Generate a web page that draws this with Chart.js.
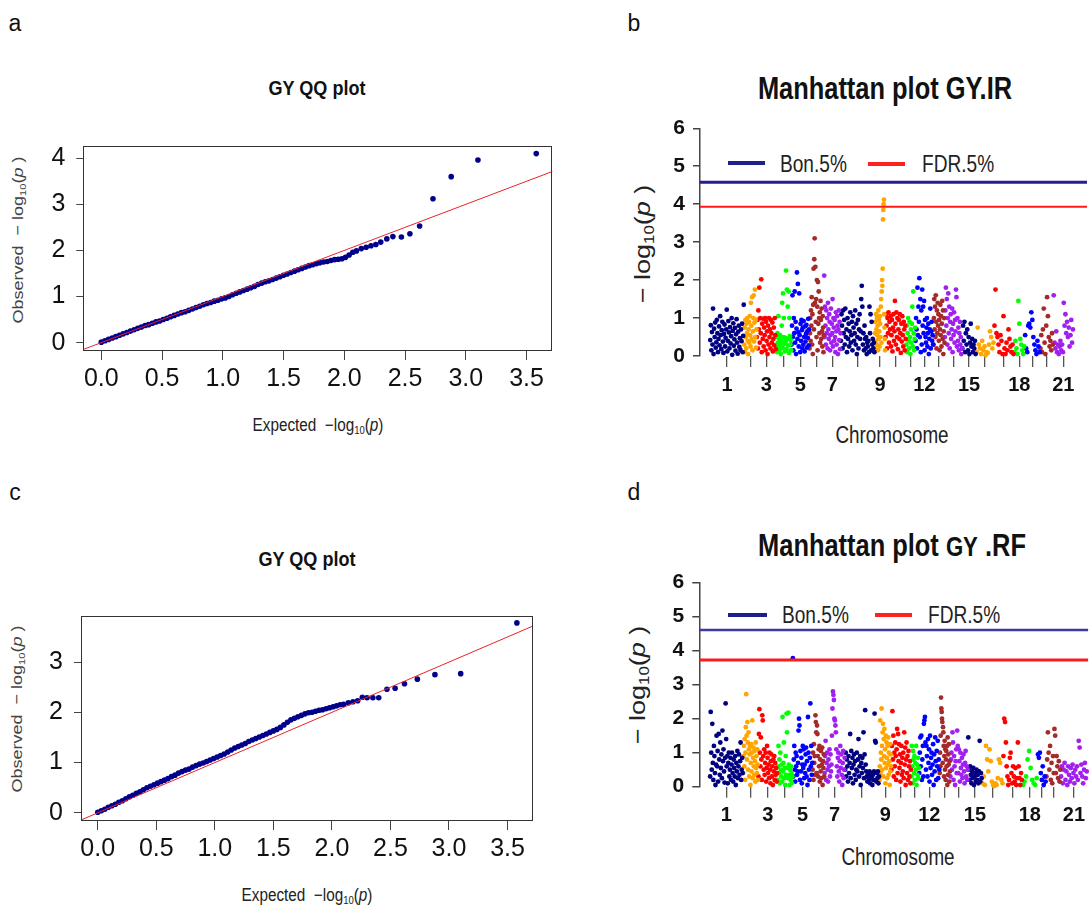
<!DOCTYPE html>
<html><head><meta charset="utf-8">
<script src="https://cdn.jsdelivr.net/npm/chart.js@4.4.1/dist/chart.umd.min.js"></script>
<style>
html,body{margin:0;padding:0;background:#fff;}
#page{position:relative;width:1091px;height:905px;overflow:hidden;background:#fff;font-family:'Liberation Sans',Arial,sans-serif;}
.t,.v,.l{position:absolute;white-space:nowrap;line-height:1;}
.seg{position:absolute;}
sub{font-size:0.62em;vertical-align:-0.28em;line-height:0;}
canvas{position:absolute;}
</style></head><body><div id="page">

<div class="t" style="left:15px;top:23px;font-size:23px;color:#111;transform:translate(-50%,-50%)">a</div>
<div class="t" style="left:634px;top:23px;font-size:23px;color:#111;transform:translate(-50%,-50%)">b</div>
<div class="t" style="left:15px;top:492px;font-size:23px;color:#111;transform:translate(-50%,-50%)">c</div>
<div class="t" style="left:634px;top:492px;font-size:23px;color:#111;transform:translate(-50%,-50%)">d</div>

<div class="t" style="left:317px;top:87px;font-size:21px;font-weight:bold;color:#111;transform:translate(-50%,-50%) scaleX(0.86)">GY QQ plot</div>
<div class="t" style="left:307px;top:558px;font-size:21px;font-weight:bold;color:#111;transform:translate(-50%,-50%) scaleX(0.86)">GY QQ plot</div>
<div class="t" style="left:885px;top:88px;font-size:31px;font-weight:bold;color:#111;transform:translate(-50%,-50%) scaleX(0.82)">Manhattan plot GY.IR</div>
<div class="t" style="left:892px;top:545px;font-size:31px;font-weight:bold;color:#111;transform:translate(-50%,-50%) scaleX(0.82)">Manhattan plot <span style="font-size:27px">GY</span> .RF</div>

<div class="v" style="left:18px;top:240px;font-size:18px;color:#444;transform:translate(-50%,-50%) rotate(-90deg) scaleY(0.85)">Observed&nbsp;&nbsp;&minus;&nbsp;log<sub>10</sub>(<i>p</i>&nbsp;)</div>
<div class="t" style="left:318px;top:425px;font-size:18px;color:#222;transform:translate(-50%,-50%) scaleX(0.85)">Expected&nbsp;&nbsp;&minus;log<sub>10</sub>(<i>p</i>)</div>
<div class="v" style="left:17px;top:709px;font-size:18px;color:#444;transform:translate(-50%,-50%) rotate(-90deg) scaleY(0.85)">Observed&nbsp;&nbsp;&minus;&nbsp;log<sub>10</sub>(<i>p</i>&nbsp;)</div>
<div class="t" style="left:307px;top:895px;font-size:18px;color:#222;transform:translate(-50%,-50%) scaleX(0.85)">Expected&nbsp;&nbsp;&minus;log<sub>10</sub>(<i>p</i>)</div>

<div class="v" style="left:643px;top:244px;font-size:27px;color:#222;transform:translate(-50%,-50%) rotate(-90deg) scaleY(0.82)">&minus;&nbsp;log<sub>10</sub>(<i>p</i>&nbsp;)</div>
<div class="v" style="left:638px;top:685px;font-size:27px;color:#222;transform:translate(-50%,-50%) rotate(-90deg) scaleY(0.82)">&minus;&nbsp;log<sub>10</sub>(<i>p</i>&nbsp;)</div>
<div class="t" style="left:892px;top:435px;font-size:23px;color:#222;transform:translate(-50%,-50%) scaleX(0.82)">Chromosome</div>
<div class="t" style="left:898px;top:857px;font-size:23px;color:#222;transform:translate(-50%,-50%) scaleX(0.82)">Chromosome</div>

<div class="seg" style="left:728px;top:161px;width:37px;height:4px;background:#1e1e8c"></div>
<div class="l" style="left:780px;top:164px;font-size:23px;color:#222;transform-origin:0 50%;transform:translateY(-50%) scaleX(0.83)">Bon.5%</div>
<div class="seg" style="left:868px;top:161.5px;width:37px;height:4px;background:#ff2020"></div>
<div class="l" style="left:922px;top:164px;font-size:23px;color:#222;transform-origin:0 50%;transform:translateY(-50%) scaleX(0.83)">FDR.5%</div>

<div class="seg" style="left:728px;top:612.5px;width:39px;height:4px;background:#1e1e8c"></div>
<div class="l" style="left:782px;top:615px;font-size:23px;color:#222;transform-origin:0 50%;transform:translateY(-50%) scaleX(0.83)">Bon.5%</div>
<div class="seg" style="left:875px;top:612.5px;width:37px;height:4px;background:#ff2020"></div>
<div class="l" style="left:928px;top:615px;font-size:23px;color:#222;transform-origin:0 50%;transform:translateY(-50%) scaleX(0.83)">FDR.5%</div>

<canvas id="qqA" width="560" height="280" style="left:0;top:120px"></canvas>
<canvas id="qqC" width="545" height="280" style="left:0;top:590px"></canvas>
<canvas id="manB" width="487" height="306" style="left:600px;top:100px"></canvas>
<canvas id="manD" width="491" height="277" style="left:600px;top:560px"></canvas>
</div>
<script>
// ---------------- DATA ----------------
// QQ plots: expected -log10(p) (shared) and observed -log10(p)
const qqExpected = [3.58,3.10,2.88,2.73,2.62,2.54,2.47,2.40,2.35,2.30,2.26,2.22,2.18,2.14,
 2.10,2.07,2.04,2.01,1.98,1.95,1.92,1.89,1.86,1.83,1.80,1.77,1.74,1.71,1.68,1.65,1.62,1.59,1.56,1.53,
 1.50,1.47,1.44,1.41,1.38,1.35,1.32,1.29,1.26,1.23,1.20,1.17,1.14,1.11,1.08,1.05,1.02,0.99,0.96,0.93,
 0.90,0.87,0.84,0.81,0.78,0.75,0.72,0.69,0.66,0.63,0.60,0.57,0.54,0.51,0.48,0.45,0.42,0.39,0.36,0.33,
 0.30,0.27,0.24,0.21,0.18,0.15,0.12,0.09,0.06,0.03,0.00];
const qqObservedA = [4.10,3.96,3.60,3.12,2.53,2.36,2.29,2.30,2.25,2.18,2.13,2.10,2.07,2.04,
 1.99,1.96,1.90,1.85,1.82,1.81,1.80,1.78,1.76,1.75,1.73,1.71,1.69,1.67,1.64,1.61,1.58,1.55,1.52,1.49,
 1.46,1.43,1.40,1.37,1.34,1.32,1.29,1.26,1.22,1.19,1.16,1.13,1.10,1.07,1.04,1.00,0.97,0.95,0.92,0.90,
 0.87,0.85,0.82,0.79,0.76,0.73,0.70,0.67,0.65,0.62,0.59,0.56,0.53,0.50,0.47,0.45,0.42,0.39,0.37,0.34,
 0.31,0.28,0.25,0.22,0.19,0.16,0.13,0.10,0.07,0.04,0.01];
const qqObservedC = [3.78,2.77,2.75,2.66,2.57,2.48,2.46,2.29,2.29,2.29,2.30,2.23,2.21,2.19,
 2.16,2.15,2.13,2.11,2.09,2.07,2.05,2.04,2.02,2.00,1.99,1.97,1.94,1.91,1.88,1.85,1.80,1.75,1.70,1.66,
 1.63,1.60,1.57,1.54,1.51,1.48,1.45,1.42,1.38,1.35,1.32,1.29,1.25,1.21,1.17,1.14,1.11,1.08,1.05,1.02,
 0.99,0.97,0.94,0.91,0.87,0.85,0.82,0.79,0.75,0.72,0.68,0.65,0.62,0.59,0.56,0.53,0.50,0.46,0.42,0.39,
 0.35,0.32,0.28,0.24,0.21,0.17,0.14,0.11,0.07,0.04,0.01];
const qqXTicks = [0,0.5,1.0,1.5,2.0,2.5,3.0,3.5];
const qqYTicksA = [0,1,2,3,4];
const qqYTicksC = [0,1,2,3];

// Manhattan plots: chromosome widths (plot units) and -log10(p) per chromosome
const chrNames = ['1','2','3','4','5','6','7','8','9','10','11','12','13','14','15','16','17','18','19','20','21'];
const chrShownLabels = ['1','','3','','5','','7','','9','','','12','','','15','','','18','','','21'];
const chrLenIR = [102,38,58,46,54,44,50,102,32,62,28,54,34,52,42,54,60,32,46,40,60];
const chrLenRF = [100,46,58,46,60,36,62,104,36,60,24,62,32,54,42,64,58,46,26,44,80];
const manYTicks = [0,1,2,3,4,5,6];
const bonIR = 4.58, fdrIR = 3.93;
const bonRF = 4.61, fdrRF = 3.73;

const gyIR = [
 [0.42,0.81,0.15,0.63,0.3,1.25,0.05,0.72,0.5,0.88,0.22,0.36,0.95,0.6,0.1,0.45,0.78,0.28,1.05,0.55,0.18,0.68,0.9,0.38,0.08,0.58,0.83,0.25,0.48,0.7,1.22,0.12,0.4,0.92,0.62,0.2,0.76,0.33,0.52,1.0,0.03,0.66,0.86,0.27,0.44,0.74,0.14,0.57,0.97,0.35,0.06,0.64,0.8,0.24,0.47,0.16,0.7,0.39,0.85,0.1,0.53,1.35],
 [0.3,0.75,0.1,0.95,0.5,0.2,0.85,0.6,1.0,0.4,0.05,0.7,0.9,0.35,1.05,0.55,0.25,1.4,0.8,0.45,1.55,0.15,0.65,1.0,1.6,0.38,0.88,1.75,0.5,0.95,0.22,0.7],
 [0.5,0.95,0.2,1.2,0.7,1.8,0.35,1.0,0.6,2.02,0.1,0.85,0.45,0.98,0.25,0.75,0.55,1.0,0.15,0.9,0.4,0.65,0.05,0.8,0.3,1.0,0.5,0.7,0.2,0.95,0.6,0.35,0.88,0.12,0.45,0.75,0.28,1.0,0.55,0.18],
 [0.2,0.5,0.1,0.6,0.35,1.05,0.25,0.45,0.15,0.55,0.3,0.05,0.4,0.8,1.4,0.22,1.65,0.5,1.0,0.32,0.12,0.48,0.38,2.25,0.18,1.75,0.45,1.3,0.28,1.7,0.08,1.0,0.52,0.3,0.42,0.15],
 [0.3,0.8,1.6,0.5,0.15,1.0,0.6,1.7,0.35,0.9,0.05,0.72,2.2,0.45,1.9,0.62,0.25,1.65,0.55,0.1,0.85,0.4,0.95,0.68,0.2,0.75,0.3,0.92,0.5,0.12,0.78,0.38,0.58,0.82,0.22,0.65,0.48,0.98,0.28,0.7],
 [0.2,0.6,1.0,0.4,1.2,0.8,1.55,0.3,1.1,0.05,1.35,2.3,0.7,2.55,3.1,1.4,2.35,0.9,1.5,0.5,2.0,1.3,0.15,1.95,0.85,1.7,1.0,0.6,1.15,0.35,1.45,0.95,0.45,1.25,0.65,0.25,1.05,0.75,0.1,0.55],
 [2.12,0.5,1.3,0.8,0.3,1.2,0.6,1.0,0.2,1.4,0.7,0.45,1.1,0.9,0.15,0.55,1.25,0.35,0.85,0.6,1.5,0.25,1.0,0.75,0.4,0.95,0.5,0.1,1.15,0.65,0.3,1.05,0.8,0.05,0.7,1.2,0.42,0.9,0.18,0.6],
 [0.4,1.1,0.8,0.2,1.2,0.6,0.95,0.3,1.25,0.5,0.7,0.1,1.0,0.45,0.85,0.25,0.65,1.15,0.35,0.55,0.9,0.15,1.05,0.75,0.4,0.6,1.2,0.3,0.85,0.05,0.5,0.95,0.2,0.7,1.1,0.45,0.65,1.5,1.85,1.3,0.3,0.6,0.15,0.8,0.45,0.2,0.5,0.05,0.35,0.25,0.4,0.1,1.3,0.6,1.1,0.15,0.9,0.3,0.45,0.2,0.35,0.1],
 [0.2,0.6,0.9,0.4,1.1,0.7,0.3,1.0,0.55,0.8,0.15,1.2,0.45,0.95,0.65,0.25,1.05,0.85,0.5,1.3,1.5,0.35,1.7,2.0,1.85,2.3,3.6,3.85,4.0,4.12,1.1,0.75,0.45,0.15],
 [0.5,1.1,0.8,0.2,1.0,0.6,1.15,0.35,0.9,0.7,1.05,0.25,0.55,0.95,0.12,0.75,1.1,0.4,0.65,1.45,0.85,0.3,1.15,0.5,1.0,0.18,0.7,0.95,0.45,1.1,0.6,0.08,0.85,0.38,1.05,0.55,0.25,0.9,0.7,0.15,0.8,0.45],
 [0.3,0.8,0.1,0.6,1.0,0.4,0.2,0.9,0.5,0.05,0.7,0.35,0.85,1.3,0.25,1.7,0.6,0.15,0.45,0.75],
 [0.4,1.0,0.7,0.2,1.8,0.55,1.3,0.9,2.05,0.5,1.5,0.1,1.2,0.3,1.75,0.8,1.3,0.6,1.45,0.15,0.95,0.5,0.35,0.75,1.0,0.25,0.6,0.85,0.05,0.45,0.7,1.25,0.2,0.65,0.9,0.4,0.55,0.3],
 [0.3,1.0,1.5,0.7,1.3,0.5,1.6,0.9,0.2,1.2,0.6,1.4,0.8,1.1,0.4,0.95,0.15,0.7,1.35,0.55,1.05,0.25,0.85,1.45,0.45,1.2,0.05,0.65,1.0,0.35],
 [0.5,1.2,1.8,0.8,1.5,0.3,1.0,1.65,0.6,1.3,0.2,0.9,1.1,0.45,0.7,1.25,0.1,0.85,0.55,1.15,0.35,0.95,0.65,1.75,1.55,0.25,1.0,0.4,0.75,0.15,0.6,0.9,0.3,0.5,0.05,0.2],
 [0.2,0.8,0.4,0.9,0.1,0.6,0.3,0.7,0.15,0.5,0.05,0.35,0.85,0.25,0.45,0.1,0.3,0.2,0.4,0.05],
 [0.1,0.75,0.3,0.2,0.05,0.4,0.15,0.25,0.02,0.1,0.08,0.3,0.65,0.5,0.2,0.35],
 [0.8,1.75,0.6,0.5,0.3,0.1,0.55,0.4,0.05,1.05,0.2,0.05,0.35,0.15,0.7,0.45,0.25,0.1,0.3,0.05],
 [0.1,0.4,0.2,0.05,1.45,0.85,0.45,0.3,0.15,0.05,0.25],
 [0.55,0.2,0.1,0.8,0.85,0.75,1.15,0.95,0.5,0.3,0.15,0.05,0.4,0.25,0.1],
 [0.2,0.55,0.1,0.7,1.25,0.35,0.05,0.8,1.55,1.05,0.5,0.25,0.4,0.15,0.6,0.3],
 [1.6,0.35,0.2,0.65,0.1,0.3,0.05,0.25,0.4,0.15,0.3,0.1,1.4,0.8,1.1,0.6,0.9,0.5,0.75,0.25,0.55,0.95,0.35,0.7]
];

const gyRF = [
 [0.3,2.2,1.0,0.5,1.85,0.7,0.2,1.2,0.9,0.4,0.05,0.65,1.5,0.6,1.05,0.15,1.55,0.8,0.35,1.3,0.55,0.95,0.25,1.65,0.75,1.1,0.45,0.12,0.85,2.45,1.4,0.6,0.9,0.1,0.7,1.0,0.3,0.5,0.85,0.2,0.65,1.0,0.4,0.15,0.8,0.55,0.3,0.9,0.05,0.7,0.45,1.05,0.25,0.6,0.95,0.35,0.75,1.3,0.2,0.5,0.85,0.4],
 [0.4,0.9,1.2,0.6,1.4,0.2,1.0,1.75,2.72,1.5,0.8,1.9,1.3,0.5,1.6,1.1,0.3,0.95,1.2,0.05,0.7,1.25,0.45,1.0,1.95,0.25,0.85,1.15,0.6,0.35,1.05,0.75,0.15,1.3,0.55,0.9,0.4,1.1,0.65,0.2],
 [0.3,1.55,2.28,1.0,0.6,1.45,0.8,0.2,2.1,1.95,0.9,0.5,1.1,0.35,0.7,1.0,0.15,0.55,1.2,0.85,0.4,0.65,0.25,1.0,0.5,0.1,0.75,0.95,0.3,0.6,0.05,0.8,0.45,0.9,0.2,0.7,0.35,0.55,0.15,0.4],
 [0.2,0.6,1.2,0.4,0.8,0.1,1.0,0.5,0.3,0.65,0.15,2.05,0.45,0.7,1.3,0.25,0.55,0.05,0.9,0.35,2.15,1.6,0.55,0.25,2.18,0.65,0.35,0.05,0.5,0.2,0.6,0.4,0.1,0.3],
 [3.78,0.3,0.8,1.2,0.5,0.15,1.0,0.6,0.9,0.35,0.45,0.7,1.65,2.0,1.8,0.2,1.05,0.45,0.85,0.1,0.65,1.2,0.55,1.1,0.25,0.65,0.4,0.95,1.15,0.3,0.75,0.05,2.05,1.0,0.5,0.2,0.85,2.45,0.6,1.2,0.35,0.7],
 [0.5,1.0,0.2,1.25,0.7,0.9,0.35,2.1,1.9,1.6,0.4,1.8,1.55,0.9,0.3,1.1,0.6,1.2,0.15,0.8,0.45,1.05,0.25,0.65,1.15,0.05,0.75,0.55,0.95,0.3],
 [0.4,0.9,1.35,0.2,0.7,1.0,0.5,0.15,0.8,0.6,1.1,0.3,0.95,0.45,0.65,1.5,2.3,2.8,2.7,2.55,2.0,1.95,1.8,1.6,1.1,0.6,0.3,0.85,1.0,0.45,0.15,0.75,1.2,0.55,0.95,0.35,0.05,0.7,1.05,0.25,0.5,0.85],
 [0.5,1.0,0.3,0.8,0.6,0.15,0.9,0.4,0.7,1.55,0.25,1.05,0.55,0.85,0.1,0.65,0.95,0.35,0.75,0.2,0.5,1.0,0.45,0.8,1.4,0.3,0.6,0.9,0.05,0.7,0.4,0.85,0.55,1.6,0.25,0.95,2.25,0.65,0.45,0.3,0.15,0.4,0.35,0.2,0.45,0.1,0.3,0.4,0.25,0.05,0.35,0.2,0.45,2.15,1.35,1.3,0.15,0.4,0.25,0.45,0.1,0.3],
 [0.2,0.6,1.95,0.4,1.0,0.8,2.3,1.2,0.5,1.6,1.85,0.3,1.4,0.9,1.7,0.7,1.1,0.1,1.5,0.55,1.3,0.85,0.25,1.2,0.65,1.45,0.35,1.0,0.75,0.05,1.25,0.45,0.95,0.6],
 [0.5,1.2,2.22,0.8,1.5,0.3,1.0,0.6,1.3,0.9,0.2,1.1,1.7,0.4,1.55,0.75,1.25,0.55,0.95,0.15,0.7,1.2,0.35,0.85,0.45,1.0,0.25,1.6,0.65,1.15,0.05,0.8,1.3,0.4,0.9,0.2,1.05,0.6,0.3,0.75,0.1,0.5],
 [0.3,1.2,0.6,0.1,1.05,0.8,0.4,0.9,0.2,0.7,0.5,1.2,0.05,0.65,0.35,0.85,0.25,0.55],
 [0.4,1.0,1.45,0.6,1.5,0.2,0.8,1.2,0.3,1.85,1.95,2.05,1.3,0.5,1.2,0.9,0.3,1.4,0.7,1.1,0.15,1.5,0.55,0.85,1.0,0.35,0.65,1.25,0.05,0.95,0.45,1.45,0.75,0.2,1.05,0.6,1.35,0.25,0.8,0.5],
 [0.4,1.0,0.6,1.5,2.62,2.3,2.2,2.0,1.9,0.7,1.75,1.6,1.2,0.3,0.9,1.35,0.5,1.1,0.2,0.8,1.05,0.6,1.2,0.05,1.45,0.35,0.95,0.65,1.25,0.15,0.75,0.45],
 [0.3,0.8,1.0,0.5,1.6,1.3,0.2,0.9,0.6,0.05,0.75,1.1,0.4,1.65,1.2,0.4,1.1,0.75,0.15,1.0,0.55,0.35,0.85,0.25,0.65,0.95,0.45,0.1,0.7,1.05,0.3,0.6,0.2,0.5],
 [1.45,0.5,0.2,0.6,0.35,0.1,0.45,0.25,0.55,0.05,0.3,0.4,0.15,0.5,0.2,0.35,0.1,0.45,1.35,0.15,0.4,0.25],
 [0.1,0.3,0.05,1.2,0.8,0.45,1.1,0.75,0.15,0.05,0.02,0.1,0.05,0.25,0.8,0.7,0.2,0.1],
 [0.9,2.0,1.9,1.3,0.6,0.3,0.05,0.2,0.85,1.0,0.4,0.1,0.6,0.3,0.15,0.55,0.05,0.25,1.3,0.6,0.25,0.05,0.4,0.2],
 [0.05,0.15,0.3,0.8,1.05,0.55,0.2,0.1,0.05,0.25],
 [0.95,0.85,1.0,0.4,0.2,0.6,0.05,0.3,0.15],
 [0.3,0.8,1.6,1.0,0.5,1.2,0.2,0.7,0.1,0.9,0.4,1.7,1.5,0.4,0.9,0.6,0.25,0.75,0.15,0.5],
 [0.3,0.6,0.1,0.5,0.7,0.2,0.45,0.05,0.6,0.35,0.15,0.55,0.25,0.65,0.4,0.1,0.5,0.3,0.6,0.2,1.35,1.15,0.4,0.65,0.3,0.1,0.5,0.7,0.25,0.45]
];

// ---------------- STYLE ----------------
const palette = ['#000080','#FFA500','#FF0000','#00FF00','#0000FF','#A52A2A','#A020F0'];
const FONT = "'Liberation Sans',Arial,sans-serif";

const boxPlugin = {
  id: 'box',
  afterDraw(chart, args, opts) {
    if (!opts || !opts.show) return;
    const {ctx, chartArea: a} = chart;
    ctx.save();
    ctx.strokeStyle = '#333'; ctx.lineWidth = 1;
    ctx.strokeRect(Math.round(a.left)+0.5, Math.round(a.top)+0.5, Math.round(a.width)-1, Math.round(a.height));
    ctx.restore();
  }
};

function fixedTicks(list){ return function(scale){ scale.ticks = list.map(v=>({value:v})); }; }

function qqChart(id, obs, yTicks, cfg) {
  const pts = qqExpected.map((x,i)=>({x, y: obs[i]}));
  new Chart(document.getElementById(id), {
    type: 'scatter',
    data: { datasets: [
      { type:'line', data:[{x:-1,y:-1},{x:5,y:5}], borderColor:'#e8232a', borderWidth:1, pointRadius:0, showLine:true },
      { data: pts, backgroundColor:'#00008b', borderWidth:0, pointRadius:2.8, clip:false }
    ]},
    options: {
      responsive:false, animation:false, events:[],
      layout:{ padding:{top:cfg.padTop, right:cfg.padRight, left:0, bottom:0}, autoPadding:false },
      plugins:{ legend:{display:false}, tooltip:{enabled:false}, box:{show:true} },
      scales:{
        x:{ type:'linear', min:cfg.xMin, max:cfg.xMax, afterBuildTicks: fixedTicks(qqXTicks),
            afterFit(s){ s.height = cfg.xH; },
            border:{display:false},
            grid:{ drawOnChartArea:false, drawTicks:true, tickLength:10, color:'#444' },
            ticks:{ autoSkip:false, maxRotation:0, padding:4, color:'#111', font:{family:FONT,size:25},
                    callback:v=>Number(v).toFixed(1) } },
        y:{ type:'linear', min:cfg.yMin, max:cfg.yMax, afterBuildTicks: fixedTicks(yTicks),
            afterFit(s){ s.width = cfg.yW; },
            border:{display:false},
            grid:{ drawOnChartArea:false, drawTicks:true, tickLength:7, color:'#444' },
            ticks:{ padding:11, color:'#111', font:{family:FONT,size:25}, callback:v=>String(v) } }
      }
    },
    plugins:[boxPlugin]
  });
}

function manhattan(id, lens, vals, cfg) {
  let start = 0; const datasets = []; const centers = [];
  lens.forEach((L, c) => {
    const v = vals[c];
    datasets.push({ label: chrNames[c], data: v.map((y,i)=>({x: start + (i+0.5)/v.length*L, y})),
      backgroundColor: palette[c % palette.length], borderWidth:0, pointRadius:2.4, clip:false });
    centers.push(start + L/2);
    start += L;
  });
  datasets.unshift(
    { type:'line', data:[{x:cfg.xMin,y:cfg.bon},{x:cfg.xMax,y:cfg.bon}], borderColor:cfg.bonColor, borderWidth:cfg.bonW, pointRadius:0, showLine:true, clip:false },
    { type:'line', data:[{x:cfg.xMin,y:cfg.fdr},{x:cfg.xMax,y:cfg.fdr}], borderColor:'#ff1a1a', borderWidth:cfg.fdrW, pointRadius:0, showLine:true, clip:false }
  );
  new Chart(document.getElementById(id), {
    type:'scatter',
    data:{ datasets },
    options:{
      responsive:false, animation:false, events:[],
      layout:{ padding:{top:cfg.padTop, right:0, left:0, bottom:0}, autoPadding:false },
      plugins:{ legend:{display:false}, tooltip:{enabled:false} },
      scales:{
        x:{ type:'linear', min:cfg.xMin, max:cfg.xMax, afterBuildTicks: fixedTicks(centers),
            afterFit(s){ s.height = cfg.xH; },
            border:{display:false},
            grid:{ drawOnChartArea:false, drawTicks:true, tickLength:11, color:'#555', lineWidth:1.3 },
            ticks:{ autoSkip:false, maxRotation:0, minRotation:0, padding:6, color:'#111',
                    font:{family:FONT,size:20,weight:'bold'}, callback:(v,i)=>chrShownLabels[i] } },
        y:{ type:'linear', min:0, max:6, afterBuildTicks: fixedTicks(manYTicks),
            afterFit(s){ s.width = cfg.yW; },
            border:{display:true, color:'#444', width:1.5},
            grid:{ drawOnChartArea:false, drawTicks:true, tickLength:7, color:'#444', lineWidth:1.5 },
            ticks:{ padding:8, color:'#111', font:{family:FONT,size:21,weight:'bold'}, callback:v=>String(v) } }
      }
    }
  });
}

qqChart('qqA', qqObservedA, qqYTicksA, {padTop:11, padRight:7.7, xH:50, yW:83.3, xMin:-0.148, xMax:3.712, yMin:-0.16, yMax:4.265});
qqChart('qqC', qqObservedC, qqYTicksC, {padTop:11.7, padRight:12.3, xH:50, yW:81, xMin:-0.143, xMax:3.715, yMin:-0.143, yMax:3.917});
manhattan('manB', chrLenIR, gyIR, {padTop:28.3, xH:50, yW:100, xMin:-30, xMax:1131, bon:bonIR, fdr:fdrIR, bonColor:'#20208e', bonW:3, fdrW:2});
manhattan('manD', chrLenRF, gyRF, {padTop:22.7, xH:50.3, yW:99.3, xMin:-32, xMax:1143, bon:bonRF, fdr:fdrRF, bonColor:'#3a3aa0', bonW:2.5, fdrW:3});
</script>
</body></html>
